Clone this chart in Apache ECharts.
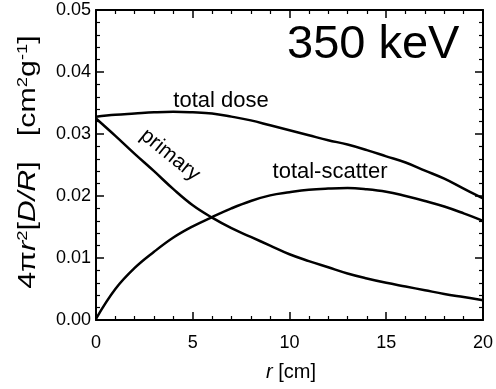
<!DOCTYPE html>
<html>
<head>
<meta charset="utf-8">
<script src="https://cdn.jsdelivr.net/npm/echarts@6/dist/echarts.min.js"></script>
<style>
  html, body { margin: 0; padding: 0; background: #fff; }
  .layer { position: absolute; left: 0; top: 0; width: 496px; height: 389px; }
</style>
</head>
<body>
<div id="frame" class="layer" style="z-index:1"></div>
<div id="curves" class="layer" style="z-index:2"></div>
<div id="texts" class="layer" style="z-index:3"></div>
<script>
'use strict';

// r [cm], 1 cm steps
const radius = [0, 1, 2, 3, 4, 5, 6, 7, 8, 9, 10, 11, 12, 13, 14, 15, 16, 17, 18, 19, 20];

// 4πr²[D/R]
const totalDose = [0.0328, 0.0331, 0.0333, 0.0335, 0.0336, 0.0335, 0.0333, 0.0328, 0.0322, 0.0314,
    0.0306, 0.0298, 0.0290, 0.0283, 0.0274, 0.0264, 0.0254, 0.0241, 0.0228, 0.0212, 0.0196];
const primary = [0.0325, 0.0297, 0.0268, 0.0240, 0.0211, 0.0185, 0.0165, 0.0148, 0.0134, 0.0120,
    0.0106, 0.0095, 0.0085, 0.0075, 0.0067, 0.0060, 0.0054, 0.0048, 0.0042, 0.0037, 0.0032];
const totalScatter = [0.0002, 0.0050, 0.0084, 0.0110, 0.0133, 0.0151, 0.0166, 0.0180, 0.0192, 0.0201,
    0.0206, 0.0210, 0.0212, 0.0213, 0.0211, 0.0207, 0.0200, 0.0192, 0.0183, 0.0172, 0.0160];

const FONT = '"Liberation Sans", Arial, sans-serif';
const GRID = { left: 96, right: 9, top: 10, bottom: 69 };

function pairs(ys) {
    return radius.map((r, i) => [r, ys[i]]);
}

// axes for both layers; the curve layer keeps the labels (invisible) so the grid lays out the same
function axes(visible) {
    const ink = visible ? '#000' : 'rgba(0,0,0,0)';
    function frame(extra) {
        return Object.assign({
            axisLine: { show: visible, onZero: false, lineStyle: { color: '#000', width: 2 } },
            axisTick: { show: visible, inside: true, length: 8, lineStyle: { color: '#000', width: 1.5 } },
            minorTick: { show: visible, splitNumber: 5, length: 4, lineStyle: { color: '#000', width: 1.2 } },
            splitLine: { show: false }
        }, extra);
    }
    return {
        xAxis: [
            frame({ type: 'value', min: 0, max: 20, interval: 5,
                axisLabel: { color: ink, fontSize: 18, fontFamily: FONT, margin: 14 } }),
            frame({ type: 'value', min: 0, max: 20, interval: 5, position: 'top', axisLabel: { show: false } })
        ],
        yAxis: [
            frame({ type: 'value', min: 0, max: 0.05, interval: 0.01,
                axisLabel: { color: ink, fontSize: 18, fontFamily: FONT, margin: 5, formatter: v => v.toFixed(2) } }),
            frame({ type: 'value', min: 0, max: 0.05, interval: 0.01, position: 'right', axisLabel: { show: false } })
        ]
    };
}

// layer 1: box, ticks and tick labels
const frameChart = echarts.init(document.getElementById('frame'));
frameChart.setOption(Object.assign({
    animation: false,
    grid: GRID,
    series: [{ type: 'line', data: pairs(totalDose), symbol: 'none', lineStyle: { opacity: 0 } }]
}, axes(true)));

// layer 2: the three curves
function line(ys) {
    return {
        type: 'line',
        data: pairs(ys),
        smooth: 0.4,
        symbol: 'none',
        lineStyle: { color: '#000', width: 2.5 }
    };
}

const curveChart = echarts.init(document.getElementById('curves'));
curveChart.setOption(Object.assign({
    animation: false,
    grid: GRID,
    series: [line(totalDose), line(primary), line(totalScatter)]
}, axes(false)));

// layer 3: titles and curve labels
const textChart = echarts.init(document.getElementById('texts'));
textChart.setOption({
    animation: false,
    graphic: [
        {
            type: 'text', left: 287, top: 22,
            style: { text: '350 keV', font: '47px ' + FONT, fill: '#000' }
        },
        {
            type: 'text', x: 221, y: 101,
            style: { text: 'total dose', font: '22px ' + FONT, fill: '#000', align: 'center', verticalAlign: 'middle' }
        },
        {
            type: 'text', x: 330, y: 172,
            style: { text: 'total-scatter', font: '22px ' + FONT, fill: '#000', align: 'center', verticalAlign: 'middle' }
        },
        {
            type: 'text', x: 170, y: 155, rotation: -39 * Math.PI / 180,
            style: { text: 'primary', font: '21px ' + FONT, fill: '#000', align: 'center', verticalAlign: 'middle' }
        },
        {
            type: 'text', x: 291, y: 372,
            style: {
                text: '{i|r} [cm]', font: '20px ' + FONT, fill: '#000', align: 'center', verticalAlign: 'middle',
                rich: { i: { fontStyle: 'italic', fontSize: 20, fontFamily: FONT, fill: '#000' } }
            }
        },
        {
            type: 'text', x: 28, y: 162, rotation: Math.PI / 2, scaleX: 1.32, scaleY: 1.05,
            style: {
                text: '4π{i|r}{s|2}[{i|D/R}]   [cm{s|2}g{s|-1}]',
                font: '23px ' + FONT, fill: '#000', align: 'center', verticalAlign: 'middle',
                rich: {
                    i: { fontStyle: 'italic', fontSize: 23, fontFamily: FONT, fill: '#000' },
                    s: { fontSize: 14, fontFamily: FONT, fill: '#000', verticalAlign: 'top', padding: [0, 0, 8, 0] }
                }
            }
        }
    ]
});
</script>
</body>
</html>
